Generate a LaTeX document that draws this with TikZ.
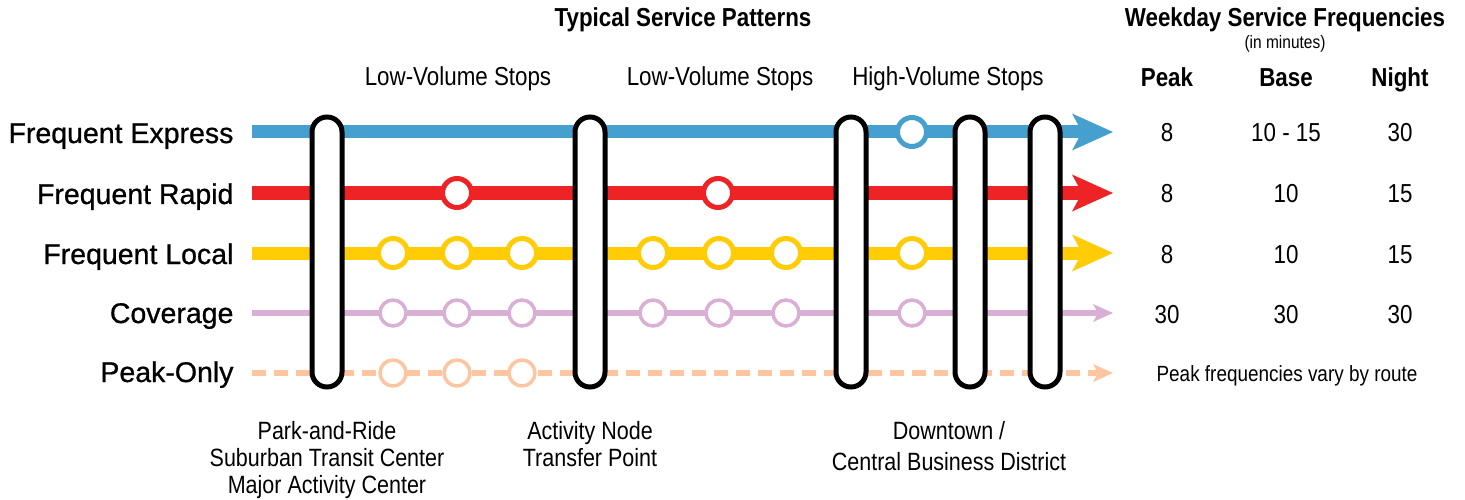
\documentclass[tikz,border=0pt]{standalone}
\usepackage{fontspec}
\setmainfont{Liberation Sans}
\newfontfamily\condfont[FakeStretch=0.86]{Liberation Sans}
\newfontfamily\rowfont[FakeBold=0.8]{Liberation Sans}
\usetikzlibrary{arrows.meta,positioning}

\definecolor{expBlue}{HTML}{459FCF}
\definecolor{rapRed}{HTML}{EE2326}
\definecolor{locYellow}{HTML}{FFCC05}
\definecolor{covLilac}{HTML}{D9AFD5}
\definecolor{pkPeach}{HTML}{FDC6A0}

\tikzset{
    station/.style={draw=black, line width=5pt, fill=white, rounded corners=15pt,
        minimum width=30pt, minimum height=270pt, inner sep=0pt},
    bigstop/.style={circle, draw=#1, line width=5pt, fill=white, minimum size=29pt, inner sep=0pt},
    smallstop/.style={circle, draw=#1, line width=3.5pt, fill=white, minimum size=26pt, inner sep=0pt},
    route/.style={draw=#1, line width=13pt,
        -{Stealth[length=41pt, width=37pt, inset=10pt, line width=0pt]}},
    thinroute/.style={draw=#1, line width=6pt,
        -{Stealth[length=20pt, width=18pt, inset=5pt, line width=0pt]}},
    rowlabel/.style={anchor=base east, font=\rowfont\fontsize{28.5}{32}\selectfont},
    heading/.style={anchor=base, font=\condfont\bfseries\fontsize{26}{30}\selectfont},
    lighttext/.style={anchor=base, font=\condfont\fontsize{26}{30}\selectfont},
    placetext/.style={anchor=north, align=center, font=\condfont\fontsize{25}{27}\selectfont}
}

\begin{document}
\begin{tikzpicture}[x=1pt, y=-1pt]
        \useasboundingbox (0,0) rectangle (1465,500);

        % route end points
        \coordinate (expS) at (252,132);  \coordinate (expE) at (1113,132);
        \coordinate (rapS) at (252,193);  \coordinate (rapE) at (1113,193);
        \coordinate (locS) at (252,253);  \coordinate (locE) at (1113,253);
        \coordinate (covS) at (252,313);  \coordinate (covE) at (1113,313);
        \coordinate (pkS) at (252,373);   \coordinate (pkE) at (1113,373);

        % route lines
        \draw[route=expBlue] (expS) -- (expE);
        \draw[route=rapRed] (rapS) -- (rapE);
        \draw[route=locYellow] (locS) -- (locE);
        \draw[thinroute=covLilac] (covS) -- (covE);
        \draw[thinroute=pkPeach, dash pattern=on 14pt off 8pt] (pkS) -- (pkE);

        % stations
        \node[station] (parkRide) at (327,252) {};
        \node[station] (actNode) at (590,252) {};
        \node[station] (down1) at (851,252) {};
        \node[station] (down2) at (970,252) {};
        \node[station] (down3) at (1045,252) {};

        % stops on the frequent lines
        \node[bigstop=expBlue] (expStop1) at (912,132) {};
        \node[bigstop=rapRed] (rapStop1) at (457,193) {};
        \node[bigstop=rapRed] (rapStop2) at (718,193) {};
        \foreach \x [count=\i] in {393,457,522,653,719,786,912}
            \node[bigstop=locYellow] (locStop\i) at (\x,253) {};

        % stops on coverage and peak-only
        \foreach \x [count=\i] in {393,457,522,653,719,786,912}
            \node[smallstop=covLilac] (covStop\i) at (\x,313) {};
        \foreach \x [count=\i] in {393,457,522}
            \node[smallstop=pkPeach] (pkStop\i) at (\x,373) {};

        % row labels
        \node[rowlabel] (lblExp) at (237,143) {Frequent Express};
        \node[rowlabel] (lblRap) at (237,204) {Frequent Rapid};
        \node[rowlabel] (lblLoc) at (237,264) {Frequent Local};
        \node[rowlabel] (lblCov) at (237,323) {Coverage};
        \node[rowlabel] (lblPk) at (237,382) {Peak-Only};

        % ================== headings ==================
        \node[heading] (patTitle) at (683,27) {Typical Service Patterns};
        \node[lighttext] (lowVol1) at (458,86) {Low-Volume Stops};
        \node[lighttext] (lowVol2) at (720,86) {Low-Volume Stops};
        \node[lighttext] (highVol) at (948,86) {High-Volume Stops};
        \node[heading] (freqTitle) at (1285,27) {Weekday Service Frequencies};
        \node[anchor=base, font=\condfont\fontsize{18}{20}\selectfont] (inMin) at (1285,49) {(in minutes)};
        \node[heading] (colPeak) at (1167,87) {Peak};
        \node[heading] (colBase) at (1286,87) {Base};
        \node[heading] (colNight) at (1400,87) {Night};
        % ==============================================

        % frequency table
        \node[lighttext] (expPeak) at (1167,142) {8};
        \node[lighttext] (expBase) at (1286,142) {10 - 15};
        \node[lighttext] (expNight) at (1400,142) {30};
        \node[lighttext] (rapPeak) at (1167,203) {8};
        \node[lighttext] (rapBase) at (1286,203) {10};
        \node[lighttext] (rapNight) at (1400,203) {15};
        \node[lighttext] (locPeak) at (1167,263) {8};
        \node[lighttext] (locBase) at (1286,263) {10};
        \node[lighttext] (locNight) at (1400,263) {15};
        \node[lighttext] (covPeak) at (1167,323) {30};
        \node[lighttext] (covBase) at (1286,323) {30};
        \node[lighttext] (covNight) at (1400,323) {30};
        \node[anchor=base, font=\condfont\fontsize{22}{26}\selectfont] (pkNote) at (1287,381) {Peak frequencies vary by route};

        % station labels
        \node[placetext] (lblParkRide) at (327,418) {Park-and-Ride\\Suburban Transit Center\\Major Activity Center};
        \node[placetext] (lblActNode) at (590,418) {Activity Node\\Transfer Point};
        \node[placetext] (lblDown) at (949,418) {Downtown /\\[4pt]Central Business District};

    \end{tikzpicture}
\end{document}
